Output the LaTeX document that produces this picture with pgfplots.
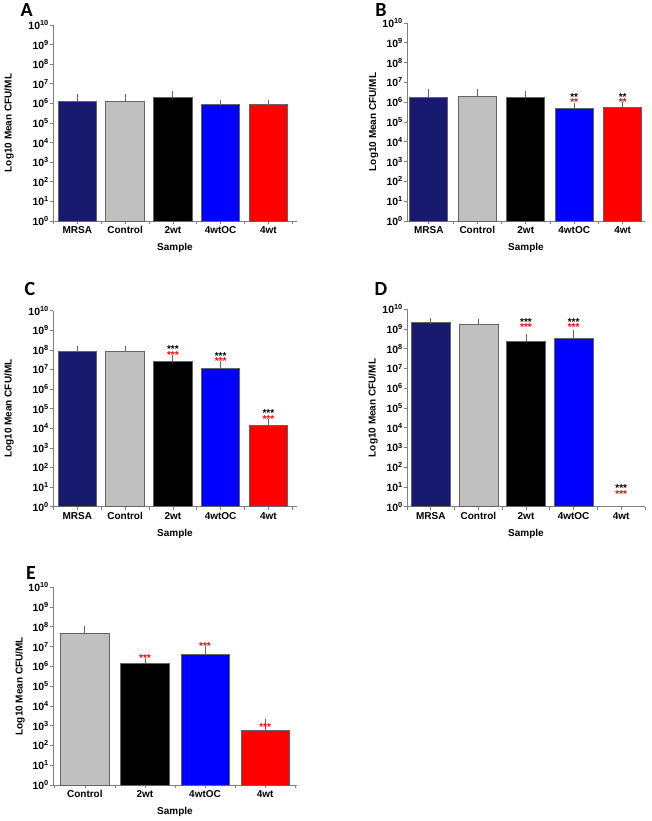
\documentclass[border=0pt]{standalone}
\usepackage{pgfplots}
\pgfplotsset{compat=1.18}
\usepackage{fontspec}
\setmainfont{Liberation Sans}
\newfontfamily\letterfont{Carlito}
\definecolor{navyb}{RGB}{24,26,112}
\definecolor{ltgray}{RGB}{192,192,192}
\definecolor{bluer}{RGB}{0,0,255}
\definecolor{redr}{RGB}{255,0,0}
\definecolor{edgegray}{RGB}{100,100,100}
\definecolor{axgray}{RGB}{128,128,128}
\newcommand{\mybar}[4]{\addplot[ybar, bar shift=0pt, fill=#1, draw=edgegray, line width=0.8pt,
  error bars/.cd, y dir=plus, y explicit,
  error bar style={edgegray, line width=0.8pt},
  error mark options={edgegray, line width=0.8pt, mark size=3pt}]
  coordinates {(#2,#3) +- (0,#4)};}
\newcommand{\stars}[1]{\vbox{\baselineskip=5.7pt\lineskiplimit=-20pt\hbox{#1}\hbox{\color{redr}#1}}}
\pgfplotsset{
  mypanel/.style={
    scale only axis,
    ymin=1, ymax=1e10,
    ytick={1,1e1,1e2,1e3,1e4,1e5,1e6,1e7,1e8,1e9,1e10},
    yminorticks=false,
    yticklabel={\pgfmathtruncatemacro{\e}{round(\tick)}\textbf{10\textsuperscript{\e}}},
    axis x line*=bottom, axis y line*=left,
    axis line style={axgray, line width=0.8pt, -},
    tick style={axgray, line width=0.7pt},
    tick align=outside,
    major tick length=3pt, minor tick length=3pt,
    ticklabel style={font=\bfseries\fontsize{10}{12}\selectfont, black},
    yticklabel style={anchor=east, inner sep=0pt, xshift=-1pt, font=\bfseries\fontsize{10.5}{12}\selectfont},
    xticklabel style={anchor=base, inner sep=0pt, yshift=-10pt},
    label style={font=\bfseries\fontsize{10}{12}\selectfont},
    xlabel={Sample},
    ylabel={Log10 Mean CFU/ML},
    xlabel style={at={(axis description cs:0.5,0)}, anchor=center, yshift=-27pt},
    clip=false,
  },
  myfive/.style={
    xtick={0,1,2,3,4},
    xticklabels={MRSA,Control,2wt,4wtOC,4wt},
    minor xtick={-0.5,0.5,1.5,2.5,3.5,4.5},
  },
}
\tikzset{
  stk/.style={font=\bfseries\fontsize{10}{10}\selectfont, anchor=base, inner sep=0pt, yshift=-5.8pt},
}
\begin{document}
\begin{tikzpicture}
\useasboundingbox (0,0) rectangle (651pt,821pt);
% Panel A
\begin{axis}[ymode=log, log basis y=10, mypanel, myfive, at={(53pt,600pt)}, anchor=south west,
  width=244pt, height=196pt, xmin=-0.51, xmax=4.6, bar width=38.5pt,
  ylabel style={at={(axis description cs:-0.18,0.5)}, anchor=center}]
\mybar{navyb}{0}{1.3e6}{0.9e6}
\mybar{ltgray}{1}{1.2e6}{0.9e6}
\mybar{black}{2}{2.1e6}{0.9e6}
\mybar{bluer}{3}{8.8e5}{1.2e5}
\mybar{redr}{4}{9.0e5}{1.0e5}
\end{axis}
% Panel B
\begin{axis}[ymode=log, log basis y=10, mypanel, myfive, at={(407pt,600pt)}, anchor=south west,
  width=238pt, height=198pt, xmin=-0.45, xmax=4.46, bar width=38pt,
  ylabel style={at={(axis description cs:-0.141,0.5)}, anchor=center}]
\mybar{navyb}{0}{1.8e6}{1.6e6}
\mybar{ltgray}{1}{1.85e6}{1.35e6}
\mybar{black}{2}{1.75e6}{0.75e6}
\mybar{bluer}{3}{4.9e5}{1.7e5}
\mybar{redr}{4}{5.5e5}{1.9e5}
\node[stk] at (axis cs:3,1.29e6) {\stars{**}};
\node[stk] at (axis cs:4,1.29e6) {\stars{**}};
\end{axis}
% Panel C
\begin{axis}[ymode=log, log basis y=10, mypanel, myfive, at={(53pt,314.3pt)}, anchor=south west,
  width=244pt, height=196pt, xmin=-0.51, xmax=4.6, bar width=38.5pt,
  ylabel style={at={(axis description cs:-0.18,0.5)}, anchor=center}]
\mybar{navyb}{0}{8.1e7}{3.4e7}
\mybar{ltgray}{1}{8.5e7}{3.0e7}
\mybar{black}{2}{2.6e7}{1.3e7}
\mybar{bluer}{3}{1.1e7}{0.75e7}
\mybar{redr}{4}{1.4e4}{0.6e4}
\node[stk] at (axis cs:2,7.59e7) {\stars{***}};
\node[stk] at (axis cs:3,3.47e7) {\stars{***}};
\node[stk] at (axis cs:4,3.89e4) {\stars{***}};
\end{axis}
% Panel D
\begin{axis}[ymode=log, log basis y=10, mypanel, myfive, at={(407pt,314.3pt)}, anchor=south west,
  width=238pt, height=197.4pt, xmin=-0.5, xmax=4.5, bar width=39pt,
  ylabel style={at={(axis description cs:-0.143,0.5)}, anchor=center}]
\mybar{navyb}{0}{2.1e9}{0.55e9}
\mybar{ltgray}{1}{1.8e9}{0.4e9}
\mybar{black}{2}{2.5e8}{1.3e8}
\mybar{bluer}{3}{3.4e8}{2.6e8}
\node[stk] at (axis cs:2,1.58e9) {\stars{***}};
\node[stk] at (axis cs:3,1.58e9) {\stars{***}};
\node[stk] at (axis cs:4,5.75) {\stars{***}};
\end{axis}
% Panel E
\begin{axis}[ymode=log, log basis y=10, mypanel, at={(53pt,36pt)}, anchor=south west,
  width=244pt, height=197.7pt, xmin=-0.53, xmax=3.53, bar width=48.3pt,
  xtick={0,1,2,3}, xticklabels={Control,2wt,4wtOC,4wt},
  minor xtick={-0.5,0.5,1.5,2.5,3.5},
  ylabel style={at={(axis description cs:-0.135,0.5)}, anchor=center}]
\mybar{ltgray}{0}{4.5e7}{3.6e7}
\mybar{black}{1}{1.37e6}{0.43e6}
\mybar{bluer}{2}{4.1e6}{3.1e6}
\mybar{redr}{3}{5.9e2}{1.0e3}
\node[stk, redr] at (axis cs:1,3.39e6) {***};
\node[stk, redr] at (axis cs:2,1.35e7) {***};
\node[stk, redr] at (axis cs:3,1.17e3) {***};
\end{axis}
% Panel letters
\node[font=\letterfont\bfseries\fontsize{20}{20}\selectfont] at (26.7pt,810.5pt) {A};
\node[font=\letterfont\bfseries\fontsize{20}{20}\selectfont] at (381pt,811pt) {B};
\node[font=\letterfont\bfseries\fontsize{20}{20}\selectfont] at (30pt,532pt) {C};
\node[font=\letterfont\bfseries\fontsize{20}{20}\selectfont] at (381pt,532pt) {D};
\node[font=\letterfont\bfseries\fontsize{20}{20}\selectfont] at (31pt,247.5pt) {E};
\end{tikzpicture}
\end{document}
